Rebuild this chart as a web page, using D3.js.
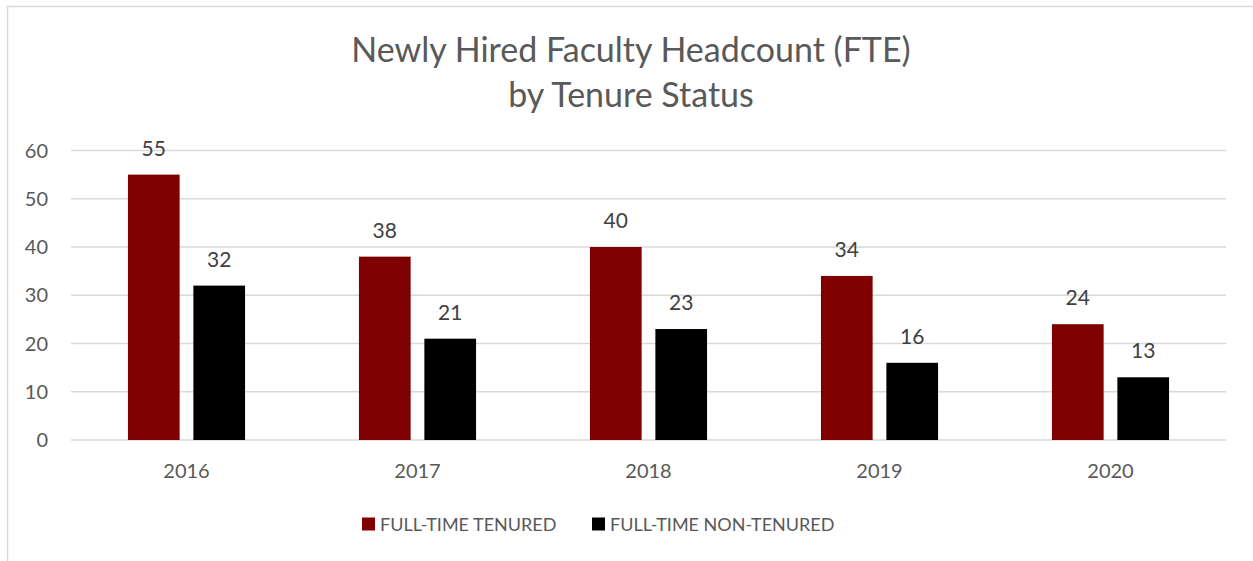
<!DOCTYPE html>
<html>
<head>
<meta charset="utf-8">
<script src="https://cdn.jsdelivr.net/npm/d3@7"></script>
<style>
  body { margin: 0; background: #fff; }
  svg { display: block; font-family: Lato, "Open Sans", sans-serif; }
  .tick-label { fill: #595959; font-size: 20px; }
  .legend-label { fill: #595959; font-size: 18px; }
  .data-label { fill: #404040; font-size: 21px; }
</style>
</head>
<body>
<div id="chart"></div>
<script>
// chart values
const years = ["2016", "2017", "2018", "2019", "2020"];
const seriesNames = ["FULL-TIME TENURED", "FULL-TIME NON-TENURED"];
const tenured = [55, 38, 40, 34, 24];
const nonTenured = [32, 21, 23, 16, 13];
const yTicks = [0, 10, 20, 30, 40, 50, 60];
const titleLines = ["Newly Hired Faculty Headcount (FTE)", "by Tenure Status"];

const colors = ["#7F0000", "#000000"];
const width = 1253, height = 561;
const plot = { left: 71, right: 1226, top: 150.5, bottom: 440 };

const svg = d3.select("#chart")
    .append("svg")
    .attr("width", width)
    .attr("height", height);

// chart border (runs off the picture on the right and bottom)
svg.append("rect")
    .attr("x", 7.5).attr("y", 6.5)
    .attr("width", 1260).attr("height", 570)
    .attr("fill", "#fff")
    .attr("stroke", "#D9D9D9")
    .attr("stroke-width", 1.5);

// title
svg.append("text")
    .attr("text-anchor", "middle")
    .attr("fill", "#595959")
    .style("font-size", "34px")
    .selectAll("tspan")
    .data(titleLines)
    .join("tspan")
    .attr("x", 631)
    .attr("y", (d, i) => 62 + i * 45)
    .text(d => d);

const x0 = d3.scaleBand()
    .domain(years)
    .range([plot.left, plot.right])
    .paddingInner(0.493)
    .paddingOuter(0.2465);

const x1 = d3.scaleBand()
    .domain(seriesNames)
    .range([0, x0.bandwidth()])
    .paddingInner(0.21);

const y = d3.scaleLinear()
    .domain([0, 60])
    .range([plot.bottom, plot.top]);

// gridlines
svg.append("g")
    .selectAll("line")
    .data(yTicks)
    .join("line")
    .attr("x1", plot.left)
    .attr("x2", plot.right)
    .attr("y1", d => y(d))
    .attr("y2", d => y(d))
    .attr("stroke", "#D9D9D9")
    .attr("stroke-width", 1.5);

// y tick labels
svg.append("g")
    .selectAll("text")
    .data(yTicks)
    .join("text")
    .attr("class", "tick-label")
    .attr("x", 48)
    .attr("y", d => y(d) + 7)
    .attr("text-anchor", "end")
    .text(d => d);

// x labels
svg.append("g")
    .selectAll("text")
    .data(years)
    .join("text")
    .attr("class", "tick-label")
    .attr("x", d => x0(d) + x0.bandwidth() / 2)
    .attr("y", 477.5)
    .attr("text-anchor", "middle")
    .text(d => d);

const rows = years.map((yr, i) => ({
    year: yr,
    values: [
        { name: seriesNames[0], value: tenured[i], color: colors[0] },
        { name: seriesNames[1], value: nonTenured[i], color: colors[1] }
    ]
}));

const groups = svg.append("g")
    .selectAll("g")
    .data(rows)
    .join("g")
    .attr("transform", d => `translate(${x0(d.year)}, 0)`);

groups.selectAll("rect")
    .data(d => d.values)
    .join("rect")
    .attr("x", d => x1(d.name))
    .attr("y", d => y(d.value))
    .attr("width", x1.bandwidth())
    .attr("height", d => y(0) - y(d.value))
    .attr("fill", d => d.color);

groups.selectAll("text")
    .data(d => d.values)
    .join("text")
    .attr("class", "data-label")
    .attr("x", d => x1(d.name) + x1.bandwidth() / 2)
    .attr("y", d => y(d.value) - 19)
    .attr("text-anchor", "middle")
    .text(d => d.value);

// legend
const legendPos = [362, 592];
const legend = svg.append("g")
    .selectAll("g")
    .data(seriesNames)
    .join("g")
    .attr("transform", (d, i) => `translate(${legendPos[i]}, 517.5)`);

legend.append("rect")
    .attr("width", 13)
    .attr("height", 13)
    .attr("fill", (d, i) => colors[i]);

legend.append("text")
    .attr("class", "legend-label")
    .attr("x", 18)
    .attr("y", 13.5)
    .text(d => d);
</script>
</body>
</html>
